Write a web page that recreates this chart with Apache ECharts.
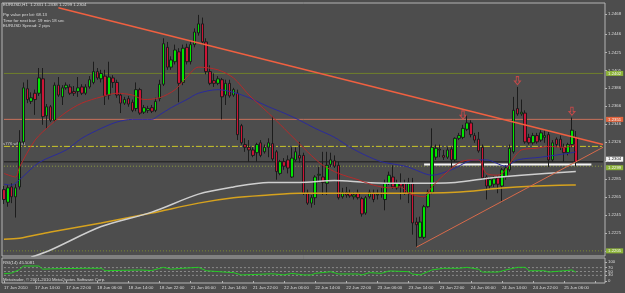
<!DOCTYPE html>
<html>
<head>
<meta charset="utf-8">
<script src="https://cdn.jsdelivr.net/npm/echarts@6/dist/echarts.min.js"></script>
<style>
html, body { margin: 0; padding: 0; background: #4d4d4d; }
#chart { width: 625px; height: 293px; }
</style>
</head>
<body>
<div id="chart"></div>
<script>
// EURUSD H1, 17 Jun 2010 06:00 .. 25 Jun 2010 09:00 (148 bars + empty shift on the right)
const barCount = 155;
const timeLabels = ['17 Jun 2010', '17 Jun 14:00', '17 Jun 22:00', '18 Jun 06:00', '18 Jun 14:00', '18 Jun 22:00',
  '21 Jun 06:00', '21 Jun 14:00', '21 Jun 22:00', '22 Jun 06:00', '22 Jun 14:00', '22 Jun 22:00',
  '23 Jun 06:00', '23 Jun 14:00', '23 Jun 22:00', '24 Jun 06:00', '24 Jun 14:00', '24 Jun 22:00', '25 Jun 06:00'];
const priceTicks = [1.2468, 1.2446, 1.2425, 1.2405, 1.2386, 1.2366, 1.2346, 1.2326, 1.2305, 1.2285, 1.2265, 1.2245, 1.2225, 1.2205];
const rsiTicks = [0, 30, 50, 70, 100];
const rsiLevels = [30, 50, 70];

// [open, close, low, high]
const candles = [
  [1.2273,1.2262,1.2257,1.2277],[1.2259,1.2275,1.2254,1.2278],[1.2276,1.2265,1.2258,1.2280],[1.2265,1.2275,1.2242,1.2279],
  [1.2276,1.2326,1.2273,1.2339],[1.2326,1.2386,1.2323,1.2392],[1.2385,1.2373,1.2369,1.2395],[1.2371,1.2375,1.2368,1.2381],
  [1.2380,1.2373,1.2356,1.2384],[1.2380,1.2397,1.2377,1.2408],[1.2396,1.2354,1.2345,1.2408],[1.2355,1.2365,1.2341,1.2368],
  [1.2365,1.2350,1.2348,1.2367],[1.2350,1.2389,1.2348,1.2392],[1.2389,1.2378,1.2376,1.2398],[1.2376,1.2386,1.2367,1.2389],
  [1.2386,1.2389,1.2384,1.2392],[1.2387,1.2380,1.2378,1.2390],[1.2382,1.2380,1.2377,1.2388],[1.2382,1.2386,1.2376,1.2398],
  [1.2387,1.2380,1.2378,1.2390],[1.2380,1.2387,1.2378,1.2390],[1.2387,1.2395,1.2385,1.2399],[1.2392,1.2404,1.2390,1.2415],
  [1.2404,1.2397,1.2395,1.2408],[1.2396,1.2402,1.2392,1.2406],[1.2399,1.2377,1.2367,1.2406],[1.2378,1.2398,1.2373,1.2415],
  [1.2397,1.2392,1.2386,1.2400],[1.2392,1.2378,1.2375,1.2395],[1.2378,1.2369,1.2358,1.2380],[1.2369,1.2373,1.2367,1.2376],
  [1.2374,1.2368,1.2365,1.2377],[1.2370,1.2361,1.2359,1.2373],[1.2363,1.2384,1.2360,1.2392],[1.2384,1.2358,1.2356,1.2386],
  [1.2359,1.2364,1.2357,1.2367],[1.2361,1.2363,1.2358,1.2366],[1.2364,1.2360,1.2358,1.2367],[1.2361,1.2371,1.2359,1.2375],
  [1.2374,1.2390,1.2371,1.2395],[1.2390,1.2435,1.2388,1.2441],[1.2431,1.2409,1.2406,1.2437],[1.2409,1.2417,1.2406,1.2421],
  [1.2415,1.2428,1.2412,1.2434],[1.2426,1.2391,1.2370,1.2430],[1.2392,1.2430,1.2389,1.2434],[1.2431,1.2415,1.2412,1.2435],
  [1.2415,1.2434,1.2412,1.2439],[1.2434,1.2448,1.2431,1.2452],[1.2447,1.2457,1.2444,1.2467],[1.2457,1.2437,1.2434,1.2464],
  [1.2437,1.2404,1.2401,1.2441],[1.2404,1.2391,1.2389,1.2411],[1.2394,1.2391,1.2387,1.2402],[1.2391,1.2396,1.2389,1.2399],
  [1.2395,1.2376,1.2351,1.2397],[1.2378,1.2391,1.2367,1.2395],[1.2391,1.2377,1.2375,1.2395],[1.2378,1.2384,1.2376,1.2386],
  [1.2380,1.2334,1.2328,1.2384],[1.2344,1.2325,1.2323,1.2346],[1.2323,1.2320,1.2315,1.2330],[1.2320,1.2317,1.2304,1.2328],
  [1.2317,1.2311,1.2309,1.2320],[1.2314,1.2323,1.2304,1.2325],[1.2325,1.2311,1.2309,1.2328],[1.2315,1.2320,1.2313,1.2323],
  [1.2320,1.2325,1.2309,1.2330],[1.2324,1.2307,1.2305,1.2354],[1.2315,1.2293,1.2284,1.2317],[1.2291,1.2304,1.2289,1.2306],
  [1.2304,1.2299,1.2295,1.2308],[1.2306,1.2297,1.2291,1.2311],[1.2287,1.2308,1.2286,1.2320],[1.2306,1.2315,1.2304,1.2320],
  [1.2311,1.2308,1.2303,1.2326],[1.2311,1.2269,1.2267,1.2314],[1.2269,1.2258,1.2256,1.2273],[1.2258,1.2264,1.2253,1.2267],
  [1.2264,1.2287,1.2256,1.2289],[1.2289,1.2290,1.2281,1.2298],[1.2287,1.2281,1.2267,1.2315],[1.2280,1.2300,1.2267,1.2315],
  [1.2301,1.2306,1.2298,1.2314],[1.2305,1.2299,1.2297,1.2311],[1.2300,1.2264,1.2262,1.2304],[1.2265,1.2270,1.2263,1.2275],
  [1.2270,1.2267,1.2264,1.2276],[1.2269,1.2266,1.2264,1.2273],[1.2265,1.2267,1.2262,1.2270],[1.2269,1.2264,1.2262,1.2273],
  [1.2263,1.2246,1.2243,1.2265],[1.2247,1.2264,1.2245,1.2266],[1.2265,1.2270,1.2263,1.2273],[1.2269,1.2262,1.2259,1.2273],
  [1.2267,1.2268,1.2262,1.2273],[1.2268,1.2269,1.2264,1.2275],[1.2262,1.2280,1.2250,1.2284],[1.2280,1.2289,1.2278,1.2293],
  [1.2287,1.2276,1.2274,1.2300],[1.2275,1.2280,1.2273,1.2284],[1.2280,1.2277,1.2262,1.2291],[1.2280,1.2269,1.2267,1.2284],
  [1.2269,1.2281,1.2258,1.2286],[1.2280,1.2236,1.2223,1.2286],[1.2237,1.2234,1.2209,1.2242],[1.2220,1.2237,1.2219,1.2243],
  [1.2220,1.2254,1.2218,1.2256],[1.2254,1.2270,1.2253,1.2273],[1.2270,1.2320,1.2268,1.2341],[1.2309,1.2319,1.2306,1.2323],
  [1.2317,1.2318,1.2309,1.2323],[1.2311,1.2309,1.2306,1.2317],[1.2309,1.2317,1.2307,1.2320],[1.2318,1.2306,1.2297,1.2321],
  [1.2306,1.2330,1.2304,1.2331],[1.2330,1.2333,1.2328,1.2336],[1.2331,1.2341,1.2329,1.2345],[1.2340,1.2347,1.2338,1.2356],
  [1.2347,1.2334,1.2331,1.2350],[1.2333,1.2328,1.2325,1.2336],[1.2329,1.2316,1.2314,1.2337],[1.2320,1.2286,1.2284,1.2323],
  [1.2287,1.2277,1.2262,1.2289],[1.2277,1.2284,1.2273,1.2287],[1.2279,1.2285,1.2276,1.2288],[1.2286,1.2279,1.2269,1.2289],
  [1.2277,1.2295,1.2259,1.2297],[1.2287,1.2297,1.2284,1.2300],[1.2295,1.2319,1.2293,1.2323],[1.2315,1.2361,1.2313,1.2376],
  [1.2363,1.2357,1.2355,1.2387],[1.2357,1.2359,1.2355,1.2373],[1.2358,1.2326,1.2324,1.2361],[1.2331,1.2325,1.2323,1.2335],
  [1.2325,1.2333,1.2323,1.2336],[1.2333,1.2326,1.2324,1.2336],[1.2328,1.2336,1.2326,1.2339],[1.2331,1.2333,1.2325,1.2339],
  [1.2334,1.2306,1.2298,1.2337],[1.2306,1.2325,1.2304,1.2328],[1.2329,1.2323,1.2320,1.2331],[1.2329,1.2320,1.2317,1.2333],
  [1.2320,1.2314,1.2304,1.2324],[1.2314,1.2323,1.2311,1.2325],[1.2323,1.2339,1.2320,1.2353],[1.2331,1.2304,1.2299,1.2338]
];

// moving averages at [bar, price]
const maRed = [[0,1.2291],[3,1.2287],[4,1.2298],[8,1.2328],[12,1.2345],[16,1.2359],[20,1.2369],[25,1.2376],[29,1.2380],
  [33,1.2378],[36,1.2373],[40,1.2375],[44,1.2384],[47,1.2398],[50,1.2409],[55,1.2406],[59,1.2397],[63,1.2378],[68,1.2358],
  [72,1.2341],[75,1.2328],[79,1.2311],[82,1.2300],[86,1.2291],[91,1.2284],[95,1.2278],[99,1.2275],[102,1.2276],[104,1.2269],
  [108,1.2265],[110,1.2276],[113,1.2289],[117,1.2303],[120,1.2306],[122,1.2306],[124,1.2291],[127,1.2289],[129,1.2295],
  [131,1.2308],[133,1.2317],[137,1.2319],[140,1.2321],[144,1.2320],[147,1.2323]];
const maBlue = [[0,1.2279],[2,1.2278],[4,1.2284],[9,1.2303],[16,1.2317],[20,1.2330],[25,1.2341],[29,1.2348],[33,1.2351],
  [38,1.2351],[40,1.2356],[43,1.2364],[47,1.2373],[50,1.2380],[55,1.2384],[59,1.2381],[63,1.2375],[68,1.2365],[72,1.2358],
  [76,1.2350],[80,1.2341],[85,1.2331],[89,1.2320],[93,1.2311],[97,1.2304],[102,1.2300],[104,1.2298],[108,1.2291],
  [110,1.2289],[115,1.2295],[121,1.2306],[124,1.2306],[129,1.2299],[132,1.2306],[138,1.2309],[146,1.2314],[147,1.2315]];
const maWhite = [[7,1.2198],[12,1.2206],[25,1.2232],[38,1.2248],[50,1.2268],[59,1.2276],[68,1.2281],[76,1.2281],
  [85,1.2283],[93,1.2281],[102,1.2280],[116,1.2281],[125,1.2286],[133,1.2289],[147,1.2293]];
const maOrange = [[0,1.2218],[4,1.2219],[12,1.2226],[25,1.2236],[38,1.2247],[50,1.2258],[59,1.2264],[68,1.2267],
  [76,1.2269],[85,1.2269],[93,1.2269],[99,1.2269],[116,1.2270],[129,1.2275],[146,1.2278],[147,1.2278]];

const rsi = [[0,38],[2,42],[4,60],[5,79],[9,79],[10,62],[12,64],[21,67],[25,67],[26,54],[30,56],[35,58],[38,55],[41,72],
  [43,62],[46,67],[50,72],[52,54],[56,48],[59,44],[61,32],[64,34],[69,38],[72,32],[74,40],[77,32],[79,32],[80,40],[84,49],
  [86,37],[91,37],[92,32],[94,44],[97,40],[99,53],[104,49],[105,37],[107,32],[110,58],[113,67],[117,67],[119,72],[122,62],
  [123,47],[127,47],[129,58],[132,72],[134,72],[135,54],[139,54],[140,47],[144,54],[146,58],[147,45.5]];

// chart objects
const levelOlive = 1.2402;
const levelSalmon = 1.2351;
const levelYellow = 1.2321;
const levelDark = 1.2304;
const levelDotted = 1.2299;
const levelBottom = 1.2205;
const trendDown = [[14,1.2475],[154,1.2323]];
const trendUp = [[106,1.2209],[154,1.2320]];
const whiteLevel = [[108,1.2301],[151,1.2301]];
const arrows = [[118,1.2356],[132,1.2394],[146,1.2360]];

const font = 'Liberation Sans';
const txt = '#dcdcdc';
const fs = 4.3;
const last = barCount - 1;

const cats = [];
for (let i = 0; i < barCount; i++) cats.push(String(i));

function level(value, style, box) {
  const s = {
    type: 'line', xAxisIndex: 0, yAxisIndex: 0, z: 1, showSymbol: false, silent: true,
    data: [[0, value], [last, value]],
    lineStyle: style
  };
  if (box) {
    s.endLabel = {
      show: true, formatter: () => value.toFixed(4), distance: 3,
      backgroundColor: box.bg, color: box.fg, fontSize: fs, fontFamily: font,
      padding: [1, 2, 0, 2], offset: [0, box.dy || 0]
    };
  }
  return s;
}

const chart = echarts.init(document.getElementById('chart'));

const option = {
  backgroundColor: '#4d4d4d',
  animation: false,
  textStyle: { fontFamily: font },
  grid: [
    { left: 2, top: 3, width: 603, height: 253, show: true, borderColor: '#b4b4b4', borderWidth: 1, backgroundColor: 'transparent' },
    { left: 2, top: 258, width: 603, height: 25, show: true, borderColor: '#b4b4b4', borderWidth: 1, backgroundColor: 'transparent' }
  ],
  xAxis: [
    { type: 'category', gridIndex: 0, data: cats, axisLine: { show: false }, axisTick: { show: false },
      axisLabel: { show: false }, splitLine: { show: false } },
    { type: 'category', gridIndex: 1, data: cats, axisLine: { show: false },
      axisTick: { show: true, alignWithLabel: true, length: 2, interval: i => i % 8 === 0, lineStyle: { color: '#b4b4b4' } },
      axisLabel: {
        interval: i => i % 8 === 0 && i / 8 < timeLabels.length,
        formatter: (v, i) => timeLabels[i / 8] || '',
        align: 'left', fontSize: fs, color: txt, margin: 3
      },
      splitLine: { show: false } }
  ],
  yAxis: [
    { type: 'value', gridIndex: 0, position: 'right', min: 1.21993, max: 1.24802,
      splitLine: { show: false }, axisLine: { show: false },
      axisTick: { show: true, length: 2, customValues: priceTicks, lineStyle: { color: '#b4b4b4' } },
      axisLabel: { customValues: priceTicks, formatter: v => v.toFixed(4), fontSize: fs, color: txt, margin: 3 } },
    { type: 'value', gridIndex: 1, position: 'right', min: -10.53, max: 121.05,
      splitLine: { show: false }, axisLine: { show: false },
      axisTick: { show: true, length: 2, customValues: rsiTicks, lineStyle: { color: '#b4b4b4' } },
      axisLabel: { customValues: rsiTicks, fontSize: fs, color: txt, margin: 3 } }
  ],
  series: [
    level(levelOlive, { color: '#6f7f2b', width: 1 }, { bg: '#8db33a', fg: '#f4f4f4' }),
    level(levelSalmon, { color: '#c8705a', width: 1 }, { bg: '#e2643e', fg: '#f4f4f4' }),
    level(levelYellow, { color: '#cbc62a', width: 1, type: [6, 2, 2, 2] }),
    level(levelDark, { color: '#2a2a2a', width: 1.5 }, { bg: '#f4f4f4', fg: '#202020', dy: -2.5 }),
    level(levelDotted, { color: '#8c9c3c', width: 1, type: [1, 2] }, { bg: '#8db33a', fg: '#f4f4f4', dy: 1.5 }),
    level(levelBottom, { color: '#7c8c30', width: 1, type: [1, 2] }, { bg: '#8db33a', fg: '#f4f4f4' }),
    { type: 'line', xAxisIndex: 0, yAxisIndex: 0, data: whiteLevel, z: 2, showSymbol: false,
      lineStyle: { color: '#f4f4f4', width: 2 } },
    { type: 'candlestick', xAxisIndex: 0, yAxisIndex: 0, data: candles, barWidth: 3, z: 3,
      itemStyle: { color: '#00e600', color0: '#cc1436', borderColor: '#1c1c1c', borderColor0: '#1c1c1c', borderWidth: 1 } },
    { type: 'line', xAxisIndex: 0, yAxisIndex: 0, data: maOrange, z: 4, showSymbol: false, smooth: 0.3,
      lineStyle: { color: '#d6a21e', width: 1.5 } },
    { type: 'line', xAxisIndex: 0, yAxisIndex: 0, data: maWhite, z: 4, showSymbol: false, smooth: 0.3,
      lineStyle: { color: '#cfcfcf', width: 1.5 } },
    { type: 'line', xAxisIndex: 0, yAxisIndex: 0, data: maBlue, z: 4, showSymbol: false, smooth: 0.3,
      lineStyle: { color: '#2a2a9c', width: 1 } },
    { type: 'line', xAxisIndex: 0, yAxisIndex: 0, data: maRed, z: 4, showSymbol: false, smooth: 0.3,
      lineStyle: { color: '#b42a2a', width: 1 } },
    { type: 'line', xAxisIndex: 0, yAxisIndex: 0, data: trendDown, z: 5, showSymbol: false,
      lineStyle: { color: '#f06040', width: 1.5 } },
    { type: 'line', xAxisIndex: 0, yAxisIndex: 0, data: trendUp, z: 5, showSymbol: false,
      lineStyle: { color: '#d86a4a', width: 1 } },
    { type: 'scatter', xAxisIndex: 0, yAxisIndex: 0, data: arrows, z: 6,
      symbol: 'path://M3,0 L7,0 L7,6 L10,6 L5,11 L0,6 L3,6 Z', symbolSize: [6, 8],
      itemStyle: { color: 'rgba(0,0,0,0)', borderColor: '#e04848', borderWidth: 1 } },
    ...rsiLevels.map(v => ({
      type: 'line', xAxisIndex: 1, yAxisIndex: 1, z: 1, showSymbol: false, silent: true,
      data: [[0, v], [last, v]], lineStyle: { color: '#9a9a9a', width: 0.8, type: [2, 2] }
    })),
    { type: 'line', xAxisIndex: 1, yAxisIndex: 1, data: rsi, showSymbol: false, z: 3,
      lineStyle: { color: '#22cc22', width: 1 } }
  ],
  graphic: [
    { type: 'text', left: 3, top: 3, style: { text: 'EURUSD,H1  1.2331 1.2338 1.2299 1.2304', fill: txt, font: fs + 'px ' + font } },
    { type: 'text', left: 3, top: 13, style: { text: 'Pip value per lot: 68.13', fill: txt, font: fs + 'px ' + font } },
    { type: 'text', left: 3, top: 18.5, style: { text: 'Time for next bar: 19 min 18 sec', fill: txt, font: fs + 'px ' + font } },
    { type: 'text', left: 3, top: 24, style: { text: 'EURUSD Spread: 2 pips', fill: txt, font: fs + 'px ' + font } },
    { type: 'text', left: 3, top: 142, style: { text: 's776 w8 pd', fill: '#c8c8c8', font: fs + 'px ' + font } },
    { type: 'text', left: 3, top: 261, style: { text: 'RSI(14) 45.5081', fill: txt, font: fs + 'px ' + font } },
    { type: 'text', left: 3, top: 277.5, style: { text: 'Metatrader, © 2001-2010 MetaQuotes Software Corp.', fill: txt, font: fs + 'px ' + font } }
  ]
};

chart.setOption(option);
</script>
</body>
</html>
